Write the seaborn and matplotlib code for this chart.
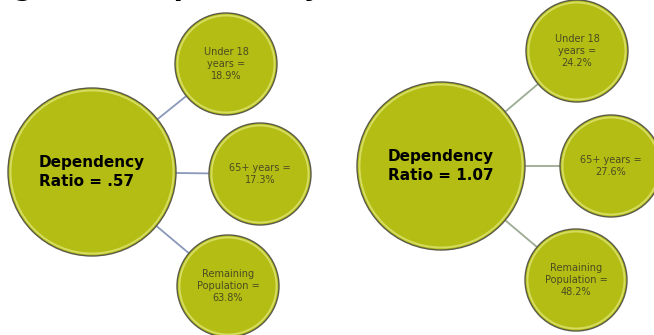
import matplotlib
matplotlib.use("Agg")
import matplotlib.pyplot as plt
import seaborn as sns
import pandas as pd

# --- data -------------------------------------------------------------
panels = ["left", "right"]
ratio_labels = [".57", "1.07"]
category_labels = ["Under 18\nyears =", "65+ years =", "Remaining\nPopulation ="]
under18 = [18.9, 24.2]
over65 = [17.3, 27.6]
remaining = [63.8, 48.2]
title_text = "Figure 1: Dependency Ratio"

# --- layout (pixel space) --------------------------------------------
W, H, DPI = 654, 335, 100
hub_centers = {"left": (92, 172), "right": (441, 166)}
hub_radius = 84
leaf_radius = 51
leaf_offsets = {
    "left": [(134, -108), (168, 2), (136, 114)],
    "right": [(136, -115), (170, 0), (135, 114)],
}
line_colors = {"left": "#8a98ba", "right": "#9cab93"}
fill = "#b3bd13"
rim = "#e4ea80"
edge = "#5a5a48"

sns.set_theme(style="white")
plt.rcParams["font.family"] = ["DejaVu Sans"]

fig = plt.figure(figsize=(W / DPI, H / DPI), dpi=DPI)
ax = fig.add_axes([0, 0, 1, 1])
ax.set_xlim(0, W)
ax.set_ylim(H, 0)
ax.axis("off")


def marker_area(radius_px):
    # scatter sizes are in points^2; convert a pixel radius
    return (2 * radius_px * 72 / DPI) ** 2


rows = []
for i, p in enumerate(panels):
    hx, hy = hub_centers[p]
    rows.append(dict(panel=p, kind="hub", x=hx, y=hy, r=hub_radius,
                     text=f"Dependency\nRatio = {ratio_labels[i]}"))
    values = [under18[i], over65[i], remaining[i]]
    for (dx, dy), lab, v in zip(leaf_offsets[p], category_labels, values):
        rows.append(dict(panel=p, kind="leaf", x=hx + dx, y=hy + dy,
                         r=leaf_radius, text=f"{lab}\n{v:.1f}%"))
df = pd.DataFrame(rows)

# connectors between hub and each leaf
for p in panels:
    sub = df[df.panel == p]
    hub = sub[sub.kind == "hub"].iloc[0]
    for _, leaf in sub[sub.kind == "leaf"].iterrows():
        ax.plot([hub.x, leaf.x], [hub.y, leaf.y], color=line_colors[p],
                lw=1.3, zorder=1, solid_capstyle="butt")

# circles: filled body, then a soft light rim just inside the edge
sizes = df.r.map(marker_area).to_numpy()
sns.scatterplot(data=df, x="x", y="y", s=sizes, color=fill,
                edgecolor=edge, linewidth=1.0, ax=ax, zorder=2, legend=False)
rim_sizes = (df.r - 2.5).map(marker_area).to_numpy()
sns.scatterplot(data=df, x="x", y="y", s=rim_sizes, facecolor="none",
                edgecolor=rim, linewidth=1.4, alpha=0.7, ax=ax, zorder=3,
                legend=False)

# labels
for _, row in df.iterrows():
    if row.kind == "hub":
        ax.text(row.x - 53, row.y, row.text, ha="left", va="center",
                fontsize=11, fontweight="bold", color="black",
                linespacing=1.35, zorder=4)
    else:
        ax.text(row.x, row.y, row.text, ha="center", va="center",
                fontsize=7, color="#4b4b22", linespacing=1.25, zorder=4)

ax.set_xlabel("")
ax.set_ylabel("")

# heading sits above the top edge; only its descenders reach the canvas
fig.text(-14 / W, 1 + 5.5 / H, title_text, ha="left", va="baseline",
         fontsize=19.5, fontweight="bold", color="black")

fig.savefig("out.png", dpi=DPI)
